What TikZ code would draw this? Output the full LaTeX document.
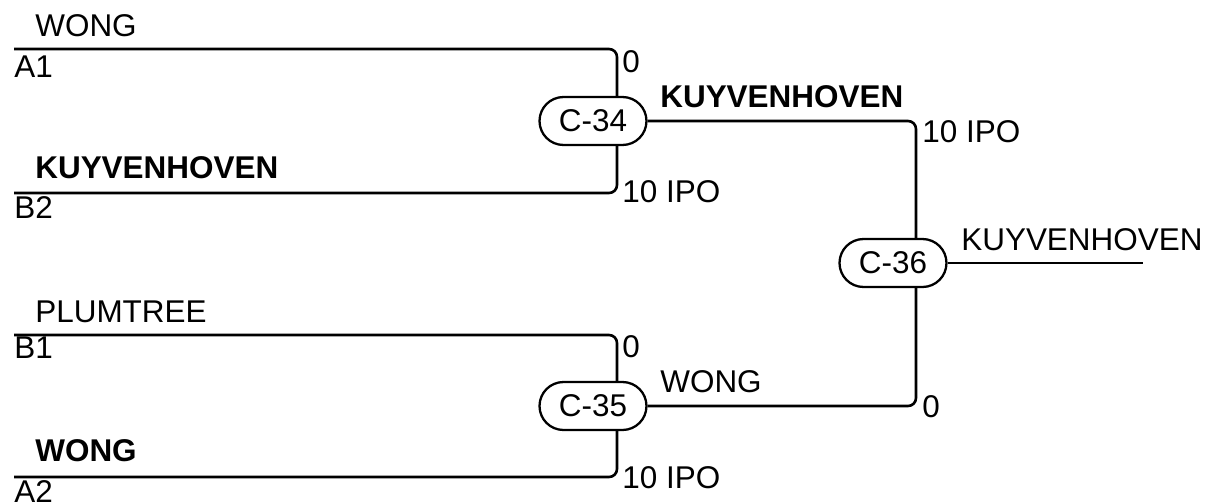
\documentclass[tikz,border=0pt]{standalone}
\usepackage{fontspec}
\setmainfont{Liberation Sans}
\usetikzlibrary{positioning}

\begin{document}
\begin{tikzpicture}[x=0.02cm, y=-0.02cm,
		every node/.style={font=\fontsize{17.9}{20}\selectfont},
		game/.style={draw, line width=1.3pt, rounded corners=0.48cm, minimum width=2.14cm, minimum height=0.96cm, inner sep=0pt},
		tag/.style={anchor=base west, inner sep=0pt},
		wire/.style={line width=1.5pt, rounded corners=0.16cm}]
				\useasboundingbox (0,0) rectangle (1205,504);

				% Draw the games
				\node[game] (c34) at (593,121) {C-34};
				\node[game] (c35) at (593,406) {C-35};
				\node[game] (c36) at (893,263) {C-36};

				% Draw the entry lines
				\coordinate (a1) at (14,49);
				\coordinate (b2) at (14,193);
				\coordinate (b1) at (14,335);
				\coordinate (a2) at (14,477);
				\coordinate (champ) at (1143,263);

				\draw[wire] (a1) -| ([xshift=0.48cm]c34.north);
				\draw[wire] (b2) -| ([xshift=0.48cm]c34.south);
				\draw[wire] (b1) -| ([xshift=0.48cm]c35.north);
				\draw[wire] (a2) -| ([xshift=0.48cm]c35.south);
				\draw[wire] (c34.east) -| ([xshift=0.46cm]c36.north);
				\draw[wire] (c35.east) -| ([xshift=0.46cm]c36.south);
				\draw[wire] (c36.east) -- (champ);

				% Names and seeds
				\node[tag] (n1) at (35,36) {WONG};
				\node[tag] (s1) at (14,77) {A1};
				\node[tag] (n2) at (35,178) {\bfseries KUYVENHOVEN};
				\node[tag] (s2) at (14,218) {B2};
				\node[tag] (n3) at (35,322) {PLUMTREE};
				\node[tag] (s3) at (14,358) {B1};
				\node[tag] (n4) at (35,461) {\bfseries WONG};
				\node[tag] (s4) at (14,502) {A2};

				% Scores
				\node[tag] (r1) at (622,72) {0};
				\node[tag] (r2) at (622,202) {10 IPO};
				\node[tag] (r3) at (622,357) {0};
				\node[tag] (r4) at (622,488) {10 IPO};
				\node[tag] (w34) at (660,107) {\bfseries KUYVENHOVEN};
				\node[tag] (w35) at (660,392) {WONG};
				\node[tag] (r5) at (922,142) {10 IPO};
				\node[tag] (r6) at (922,417) {0};
				\node[tag] (w36) at (961,250) {KUYVENHOVEN};

			\end{tikzpicture}
\end{document}
